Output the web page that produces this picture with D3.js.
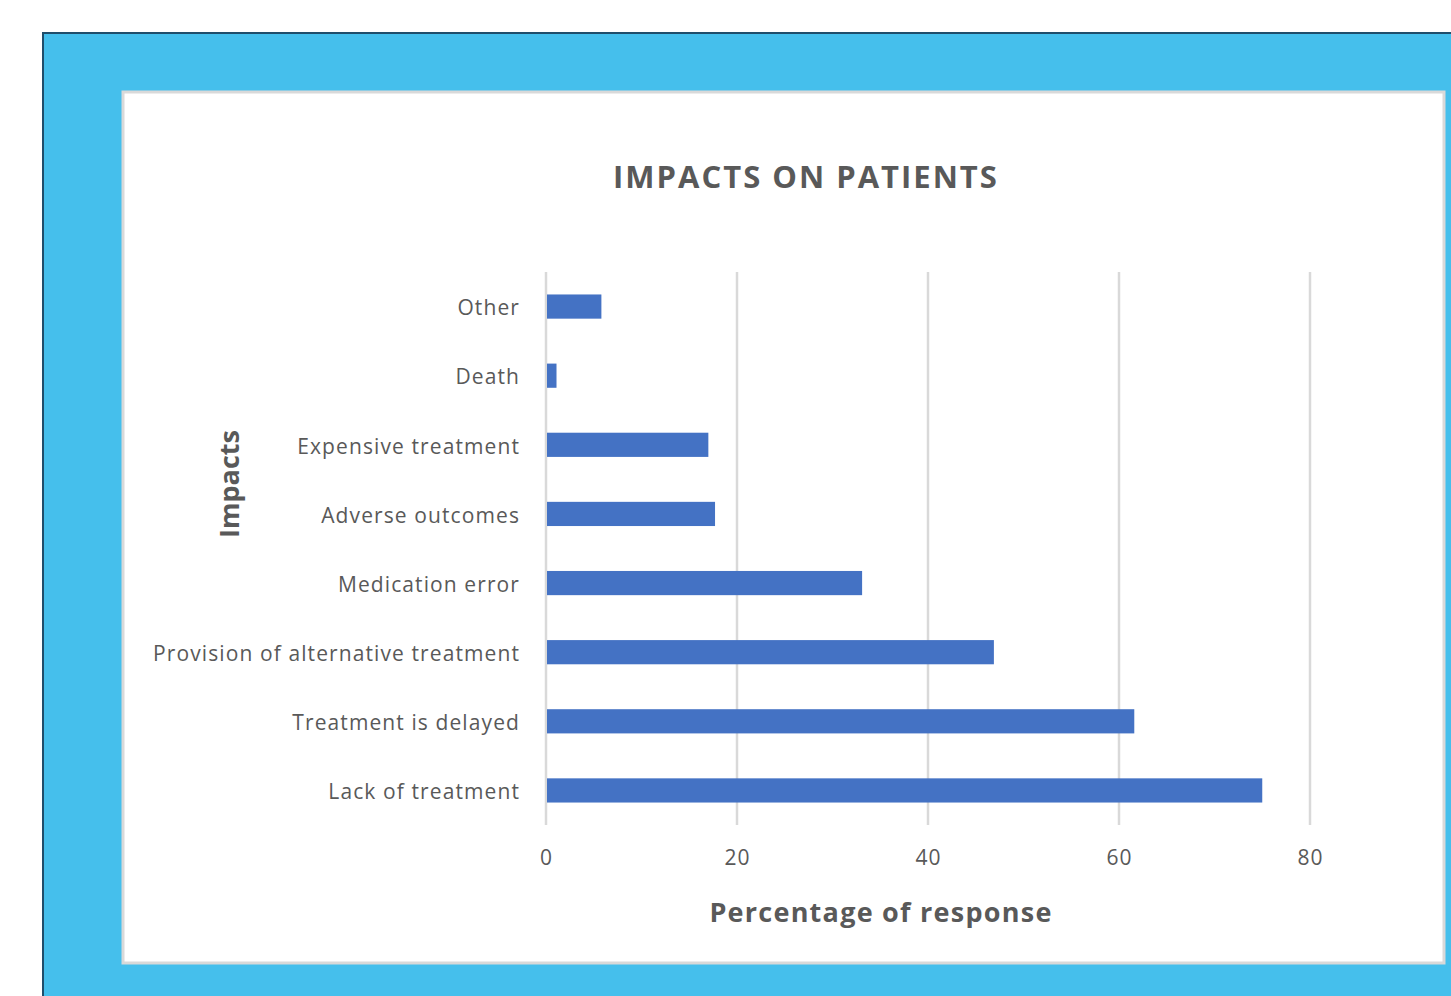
<!DOCTYPE html>
<html>
<head>
<meta charset="utf-8">
<script src="https://cdn.jsdelivr.net/npm/d3@7"></script>
<style>
  html, body { margin: 0; padding: 0; background: #fff; }
  svg { display: block; }
  text { font-family: "Open Sans", "Noto Sans", sans-serif; }
</style>
</head>
<body>
<svg id="chart" width="1451" height="996"></svg>
<script>
// data
const categories = ['Other', 'Death', 'Expensive treatment', 'Adverse outcomes',
  'Medication error', 'Provision of alternative treatment', 'Treatment is delayed', 'Lack of treatment'];
const values = [5.8, 1.1, 17.0, 17.7, 33.1, 46.9, 61.6, 75.0];
const xTicks = [0, 20, 40, 60, 80];

const svg = d3.select('#chart');

// blue frame with dark edge, then the white chart panel
svg.append('rect')
  .attr('x', 43).attr('y', 33).attr('width', 1420).attr('height', 1000)
  .attr('fill', '#45bfec').attr('stroke', '#1f4e6b').attr('stroke-width', 2);
svg.append('rect')
  .attr('x', 123).attr('y', 92).attr('width', 1321).attr('height', 871)
  .attr('fill', '#fff').attr('stroke', '#d9d9d9').attr('stroke-width', 3);

// scales
const x = d3.scaleLinear().domain([0, 80]).range([546, 1310]);
const y = d3.scaleBand().domain(categories).range([272, 825]).paddingInner(0.65).paddingOuter(0.325);

// gridlines
svg.append('g')
  .selectAll('line')
  .data(xTicks)
  .join('line')
  .attr('x1', d => x(d)).attr('x2', d => x(d))
  .attr('y1', 272).attr('y2', 825)
  .attr('stroke', '#d9d9d9').attr('stroke-width', 2.5);

// bars
svg.append('g')
  .selectAll('rect')
  .data(values)
  .join('rect')
  .attr('x', x(0) + 1)
  .attr('y', (d, i) => y(categories[i]))
  .attr('width', d => x(d) - x(0) - 1)
  .attr('height', y.bandwidth())
  .attr('fill', '#4472c4');

// x axis tick labels
const xAxis = svg.append('g')
  .attr('transform', 'translate(0,825)')
  .call(d3.axisBottom(x).tickValues(xTicks).tickSize(0).tickPadding(25));
xAxis.select('.domain').remove();
xAxis.selectAll('text')
  .attr('fill', '#595959')
  .style('font-size', '21px')
  .style('letter-spacing', '1px');

// y axis category labels
const yAxis = svg.append('g')
  .attr('transform', 'translate(546,2)')
  .call(d3.axisLeft(y).tickSize(0).tickPadding(26));
yAxis.select('.domain').remove();
yAxis.selectAll('text')
  .attr('fill', '#595959')
  .style('font-size', '21px')
  .style('letter-spacing', '1.1px');

// titles
svg.append('text')
  .attr('x', 806).attr('y', 176)
  .attr('text-anchor', 'middle').attr('dominant-baseline', 'central')
  .attr('fill', '#595959').style('font-size', '31px').style('font-weight', 'bold')
  .style('letter-spacing', '2px')
  .text('IMPACTS ON PATIENTS');

svg.append('text')
  .attr('x', 881).attr('y', 911)
  .attr('text-anchor', 'middle').attr('dominant-baseline', 'central')
  .attr('fill', '#595959').style('font-size', '27px').style('font-weight', 'bold')
  .style('letter-spacing', '1.25px')
  .text('Percentage of response');

svg.append('text')
  .attr('transform', 'translate(228,484) rotate(-90)')
  .attr('text-anchor', 'middle').attr('dominant-baseline', 'central')
  .attr('fill', '#595959').style('font-size', '27px').style('font-weight', 'bold')
  .text('Impacts');
</script>
</body>
</html>
